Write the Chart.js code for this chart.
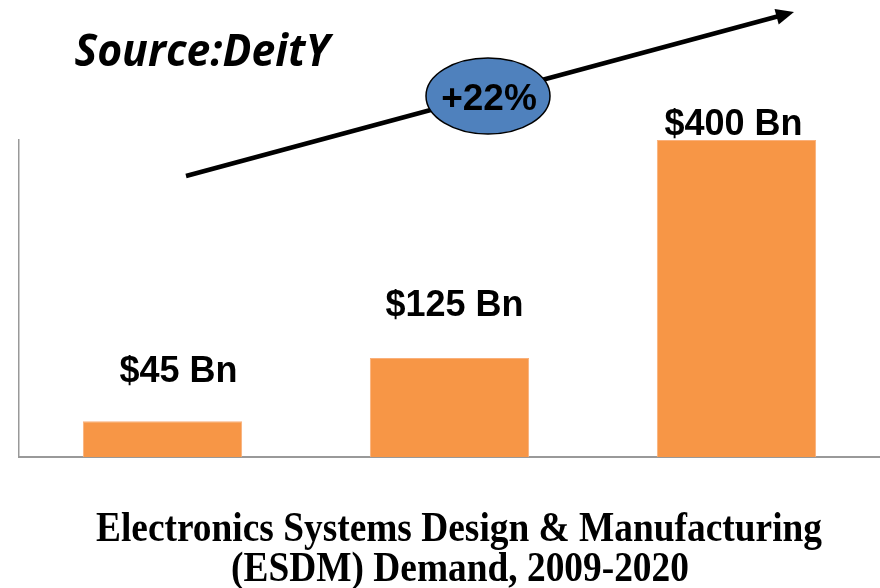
<!DOCTYPE html>
<html>
<head>
<meta charset="utf-8">
<script src="https://cdn.jsdelivr.net/npm/chart.js@4/dist/chart.umd.min.js"></script>
<style>
    html, body { margin: 0; padding: 0; background: #fff; }
    #wrap { width: 880px; height: 588px; position: relative; }
</style>
</head>
<body>
<div id="wrap"><canvas id="grafico"></canvas></div>
<script>
// Dados do gráfico
const periodos = ['2009', '2015', '2020'];
const demandaBn = [45, 125, 400];
const rotulos = ['$45 Bn', '$125 Bn', '$400 Bn'];
const crescimento = '+22%';
const fonte = 'Source:DeitY';
const tituloLinhas = ['Electronics Systems Design & Manufacturing', '(ESDM) Demand, 2009-2020'];

// Ajustes finos de posição dos rótulos (px, relativos ao topo/centro da barra)
const deslocRotulos = [[16, -39], [5, -42], [-3, -5]];

// Desenha um texto ajustando a largura horizontal para caber em "largura"
function textoLargura(ctx, txt, cx, base, largura) {
    const w = ctx.measureText(txt).width;
    const s = largura ? largura / w : 1;
    ctx.save();
    ctx.translate(cx, base);
    ctx.scale(s, 1);
    ctx.textAlign = 'center';
    ctx.textBaseline = 'alphabetic';
    ctx.fillText(txt, 0, 0);
    ctx.restore();
}

const pluginAnotacoes = {
    id: 'anotacoes',
    afterDatasetsDraw(chart) {
        const ctx = chart.ctx;
        const meta = chart.getDatasetMeta(0);

        // Rótulos das barras
        ctx.save();
        ctx.fillStyle = '#000';
        ctx.font = 'bold 36px "Liberation Sans", Arial, sans-serif';
        meta.data.forEach((bar, i) => {
            const d = deslocRotulos[i];
            textoLargura(ctx, rotulos[i], bar.x + d[0], bar.y + d[1]);
        });

        // Fonte
        ctx.font = 'italic bold 44px "Open Sans", sans-serif';
        textoLargura(ctx, fonte, 202, 66, 255);

        // Seta de crescimento
        const x0 = 186, y0 = 176, x1 = 794, y1 = 12;
        const ang = Math.atan2(y1 - y0, x1 - x0);
        const cab = 18;
        ctx.strokeStyle = '#000';
        ctx.lineWidth = 4.5;
        ctx.beginPath();
        ctx.moveTo(x0, y0);
        ctx.lineTo(x1 - cab * 0.8 * Math.cos(ang), y1 - cab * 0.8 * Math.sin(ang));
        ctx.stroke();
        ctx.fillStyle = '#000';
        ctx.beginPath();
        ctx.moveTo(x1, y1);
        ctx.lineTo(x1 - cab * Math.cos(ang) + 8 * Math.sin(ang), y1 - cab * Math.sin(ang) - 8 * Math.cos(ang));
        ctx.lineTo(x1 - cab * Math.cos(ang) - 8 * Math.sin(ang), y1 - cab * Math.sin(ang) + 8 * Math.cos(ang));
        ctx.closePath();
        ctx.fill();

        // Elipse com a taxa
        ctx.beginPath();
        ctx.ellipse(488, 96, 62, 38, 0, 0, Math.PI * 2);
        ctx.fillStyle = '#4F81BD';
        ctx.fill();
        ctx.lineWidth = 1.5;
        ctx.strokeStyle = '#000';
        ctx.stroke();
        ctx.fillStyle = '#000';
        ctx.font = 'bold 37px "Liberation Sans", Arial, sans-serif';
        textoLargura(ctx, crescimento, 489, 110);

        // Título embaixo
        ctx.font = 'bold 42px "Liberation Serif", "Times New Roman", serif';
        const w0 = ctx.measureText(tituloLinhas[0]).width;
        const esc = 726 / w0;
        textoLargura(ctx, tituloLinhas[0], 459, 541, 726);
        textoLargura(ctx, tituloLinhas[1], 460, 581, ctx.measureText(tituloLinhas[1]).width * esc);
        ctx.restore();
    }
};

new Chart(document.getElementById('grafico').getContext('2d'), {
    type: 'bar',
    data: {
        labels: periodos,
        datasets: [{
            data: demandaBn,
            backgroundColor: '#F79646',
            borderColor: '#FAB07A',
            borderWidth: 1,
            barPercentage: 0.555,
            categoryPercentage: 1
        }]
    },
    options: {
        responsive: true,
        maintainAspectRatio: false,
        animation: false,
        layout: { padding: { top: 140, left: 19, right: 0, bottom: 131 } },
        plugins: {
            legend: { display: false },
            tooltip: { enabled: false }
        },
        scales: {
            x: {
                grid: { display: false, drawTicks: false },
                ticks: { display: false },
                border: { color: '#999', width: 2 }
            },
            y: {
                min: 0,
                max: 400,
                grid: { display: false, drawTicks: false },
                ticks: { display: false },
                border: { color: '#999', width: 1.5 }
            }
        }
    },
    plugins: [pluginAnotacoes]
});
</script>
</body>
</html>
